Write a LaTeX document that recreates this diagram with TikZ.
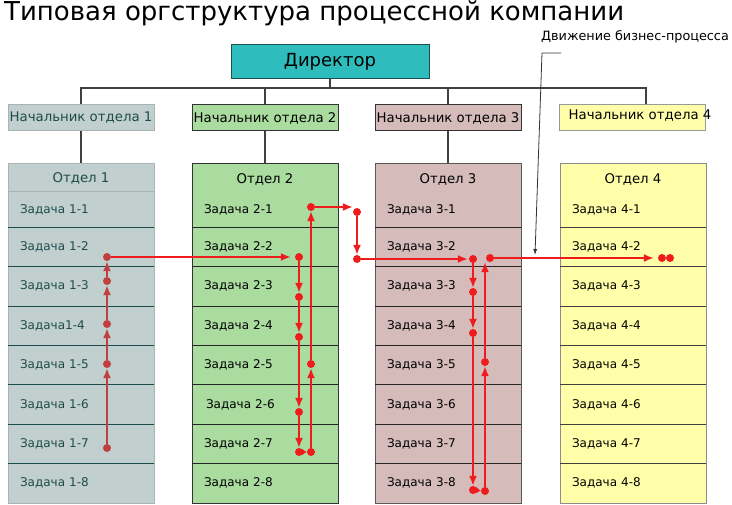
\documentclass[tikz,border=0pt]{standalone}
\usepackage{fontspec}
\setmainfont{DejaVu Sans}
\usetikzlibrary{arrows.meta}
\definecolor{dircol}{HTML}{2EBCBC}
\definecolor{dirline}{HTML}{1F4F4F}
\definecolor{col1}{HTML}{C1CFCE}
\definecolor{col2}{HTML}{AADCA0}
\definecolor{col3}{HTML}{D6BBBB}
\definecolor{col4}{HTML}{FFFFAA}
\definecolor{ink1}{HTML}{1E4B4B}
\definecolor{line1}{HTML}{A9B3B3}
\definecolor{flowred}{HTML}{EE1C1C}
\definecolor{flowdim}{HTML}{C0403F}

\begin{document}
\begin{tikzpicture}[x=1pt,y=-1pt]
	\tikzstyle{box} = [draw, line width=1pt, minimum height=26pt, minimum width=146pt, inner sep=0pt, font=\fontsize{13.3}{15}\selectfont]
	\tikzstyle{col} = [draw, line width=1pt, minimum width=146pt, minimum height=339pt, inner sep=0pt]
	\tikzstyle{head} = [inner sep=0pt, font=\fontsize{13.3}{15}\selectfont]
	\tikzstyle{task} = [minimum height=39.43pt, text width=122pt, inner xsep=12pt, inner ysep=0pt, align=left, font=\fontsize{12}{14}\selectfont]
	\tikzstyle{tree} = [line width=1.2pt, black!75]
	\tikzstyle{dot} = [circle, fill=flowred, inner sep=0pt, minimum size=8pt]
	\tikzstyle{flow} = [->, >={Latex[length=10pt,width=8pt]}, line width=1.6pt, flowred]
	\tikzstyle{callout} = [->, >={Latex[length=6pt,width=4pt]}, line width=0.8pt, black!80]
	\useasboundingbox (0,0) rectangle (732,505);

	% title
	\node [anchor=base west, inner sep=0pt, font=\fontsize{26}{30}\selectfont] (title) at (4,21) {Типовая оргструктура процессной компании};

	% director and heads
	\node [box, fill=dircol, draw=dirline, minimum width=198pt, minimum height=34pt, font=\fontsize{18}{20}\selectfont] (dir) at (330,62) {Директор};
	\node [box, fill=col1, draw=line1, text=ink1] (b1) at (81,118) {Начальник отдела 1};
	\node [box, fill=col2, draw=black!80] (b2) at (265,118) {Начальник отдела 2};
	\node [box, fill=col3, draw=black!80] (b3) at (448,118) {Начальник отдела 3};
	\node [box, fill=col4, draw=black!40] (b4) at (632,118) {};
	\node [head] (b4t) at (640,116) {Начальник отдела 4};

	\coordinate (bus) at (330,88);
	\draw [tree] (dir) -- (bus);
	\draw [tree] (b1.north) |- (bus);
	\draw [tree] (b2.north) |- (bus);
	\draw [tree] (b3.north) |- (bus);
	\draw [tree] ([xshift=14pt]b4.north) |- (bus);

	% departments
	\node [col, fill=col1, draw=line1] (c1) at (81,333.5) {};
	\node [col, fill=col2, draw=black!80] (c2) at (265,333.5) {};
	\node [col, fill=col3, draw=black!65] (c3) at (448,333.5) {};
	\node [col, fill=col4, draw=black!45] (c4) at (633,333.5) {};
	\node [box, fill=col1, draw=line1, text=ink1, minimum height=28pt] (h1) at (81,178) {Отдел 1};
	\node [head] (h2) at (265,179) {Отдел 2};
	\node [head] (h3) at (448,179) {Отдел 3};
	\node [head] (h4) at (633,179) {Отдел 4};

	\draw [tree] (b1) -- (h1);
	\draw [tree] (b2) -- (c2);
	\draw [tree] (b3) -- (c3);

	% tasks
	\node [task, text=ink1, minimum height=35pt] (t11) at (81,209.5) {Задача 1-1};
	\node [task, text=ink1] (t12) at (81,246.7) {Задача 1-2};
	\node [task, text=ink1] (t13) at (81,286.1) {Задача 1-3};
	\node [task, text=ink1] (t14) at (81,325.6) {Задача1-4};
	\node [task, text=ink1] (t15) at (81,365.0) {Задача 1-5};
	\node [task, text=ink1] (t16) at (81,404.4) {Задача 1-6};
	\node [task, text=ink1] (t17) at (81,443.9) {Задача 1-7};
	\node [task, text=ink1] (t18) at (81,483.3) {Задача 1-8};

	\node [task, minimum height=35pt] (t21) at (265,209.5) {Задача 2-1};
	\node [task] (t22) at (265,246.7) {Задача 2-2};
	\node [task] (t23) at (265,286.1) {Задача 2-3};
	\node [task] (t24) at (265,325.6) {Задача 2-4};
	\node [task] (t25) at (265,365.0) {Задача 2-5};
	\node [task] (t26) at (265,404.4) {\hspace{2pt}Задача 2-6};
	\node [task] (t27) at (265,443.9) {Задача 2-7};
	\node [task] (t28) at (265,483.3) {Задача 2-8};

	\node [task, minimum height=35pt] (t31) at (448,209.5) {Задача 3-1};
	\node [task] (t32) at (448,246.7) {Задача 3-2};
	\node [task] (t33) at (448,286.1) {Задача 3-3};
	\node [task] (t34) at (448,325.6) {Задача 3-4};
	\node [task] (t35) at (448,365.0) {Задача 3-5};
	\node [task] (t36) at (448,404.4) {Задача 3-6};
	\node [task] (t37) at (448,443.9) {Задача 3-7};
	\node [task] (t38) at (448,483.3) {Задача 3-8};

	\node [task, minimum height=35pt] (t41) at (633,209.5) {Задача 4-1};
	\node [task] (t42) at (633,246.7) {Задача 4-2};
	\node [task] (t43) at (633,286.1) {Задача 4-3};
	\node [task] (t44) at (633,325.6) {Задача 4-4};
	\node [task] (t45) at (633,365.0) {Задача 4-5};
	\node [task] (t46) at (633,404.4) {Задача 4-6};
	\node [task] (t47) at (633,443.9) {Задача 4-7};
	\node [task] (t48) at (633,483.3) {Задача 4-8};

	\draw [line width=1pt, ink1] (t11.south west) -- (t11.south east) (t12.south west) -- (t12.south east) (t13.south west) -- (t13.south east) (t14.south west) -- (t14.south east) (t15.south west) -- (t15.south east) (t16.south west) -- (t16.south east) (t17.south west) -- (t17.south east);
	\draw [line width=1pt, black!85] (t21.south west) -- (t21.south east) (t22.south west) -- (t22.south east) (t23.south west) -- (t23.south east) (t24.south west) -- (t24.south east) (t25.south west) -- (t25.south east) (t26.south west) -- (t26.south east) (t27.south west) -- (t27.south east);
	\draw [line width=1pt, black!85] (t31.south west) -- (t31.south east) (t32.south west) -- (t32.south east) (t33.south west) -- (t33.south east) (t34.south west) -- (t34.south east) (t35.south west) -- (t35.south east) (t36.south west) -- (t36.south east) (t37.south west) -- (t37.south east);
	\draw [line width=1pt, black!75] (t41.south west) -- (t41.south east) (t42.south west) -- (t42.south east) (t43.south west) -- (t43.south east) (t44.south west) -- (t44.south east) (t45.south west) -- (t45.south east) (t46.south west) -- (t46.south east) (t47.south west) -- (t47.south east);

	% business process flow
	\node [dot, fill=flowdim] (p17) at (107,448) {};
	\node [dot, fill=flowdim] (p15) at (107,364) {};
	\node [dot, fill=flowdim] (p14) at (107,324) {};
	\node [dot, fill=flowdim] (p13) at (107,281) {};
	\node [dot, fill=flowdim] (p12) at (107,257) {};
	\draw [flow, flowdim] (p17) -- (p15);
	\draw [flow, flowdim] (p15) -- (p14);
	\draw [flow, flowdim] (p14) -- (p13);
	\draw [flow, flowdim] (p13) -- (p12);

	\node [dot] (q22) at (299,257) {};
	\node [dot] (q23) at (299,297) {};
	\node [dot] (q24) at (299,337) {};
	\node [dot] (q26) at (299,412) {};
	\node [dot] (q27) at (299,452) {};
	\node [dot] (r27) at (311,452) {};
	\node [dot] (r25) at (311,364) {};
	\node [dot] (r21) at (311,207) {};
	\draw [flow, shorten >=4pt] (p12) -- (q22);
	\draw [flow] (q22) -- (q23);
	\draw [flow] (q23) -- (q24);
	\draw [flow] (q24) -- (q26);
	\draw [flow] (q26) -- (q27);
	\draw [flow, >={Latex[length=5pt,width=7pt]}] (q27) -- (r27);
	\draw [flow] (r27) -- (r25);
	\draw [flow] (r25) -- (r21);

	\node [dot] (s1) at (357,212) {};
	\node [dot] (s2) at (357,259) {};
	\draw [flow] (r21) -- (r21 -| s1.west);
	\draw [flow] (s1) -- (s2);

	\node [dot] (u32) at (473,259) {};
	\node [dot] (u33) at (473,292) {};
	\node [dot] (u34) at (473,333) {};
	\node [dot] (u38) at (473,490) {};
	\node [dot] (v38) at (485,491) {};
	\node [dot] (v35) at (485,362) {};
	\node [dot] (v32) at (490,258) {};
	\draw [flow, shorten >=1pt] (s2) -- (u32);
	\draw [flow] (u32) -- (u33);
	\draw [flow] (u33) -- (u34);
	\draw [flow] (u34) -- (u38);
	\draw [flow, >={Latex[length=5pt,width=7pt]}] (u38) -- (v38);
	\draw [flow] (v38) -- (v35);
	\draw [flow] (v35) -- (v35 |- v32.south);

	\node [dot] (w1) at (662,258) {};
	\node [dot] (w2) at (670,258) {};
	\draw [flow, shorten >=4pt] (v32) -- (w1);

	% note
	\node [anchor=base west, inner sep=0pt, font=\fontsize{12.8}{15}\selectfont] (note) at (541,41) {Движение бизнес-процесса};
	\coordinate (n1) at (561,53);
	\coordinate (n2) at (542,53);
	\coordinate (n3) at (535,255);
	\draw [callout] (n1) -- (n2) -- (n3);
\end{tikzpicture}
\end{document}
